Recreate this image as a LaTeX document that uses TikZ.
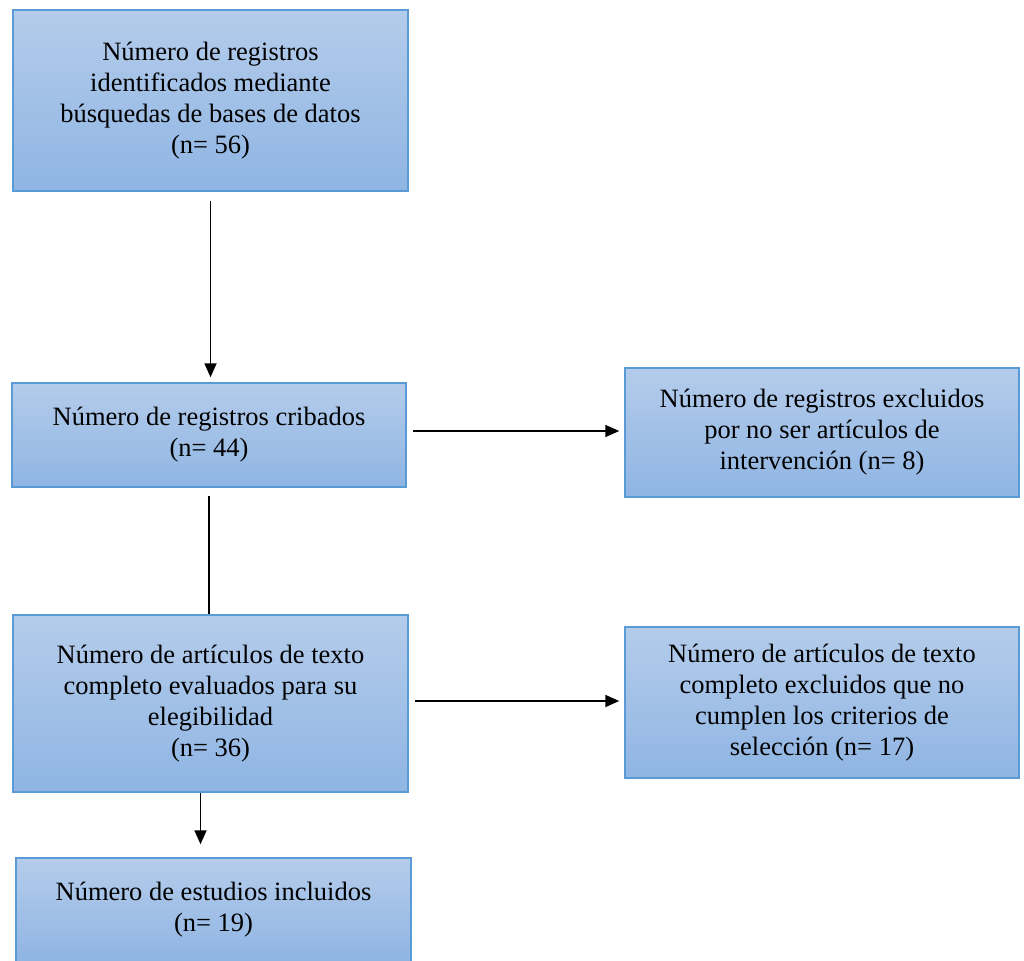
\documentclass[tikz,border=0pt]{standalone}
\usepackage{fontspec}
\setmainfont{Liberation Serif}
\newfontfamily\boxfont{Liberation Serif}
\usetikzlibrary{arrows.meta,calc}
\definecolor{boxtop}{RGB}{180,204,235}
\definecolor{boxbot}{RGB}{143,181,227}
\definecolor{boxline}{RGB}{91,155,213}
\tikzset{
  flowbox/.style={rectangle, draw=boxline, line width=1.5pt, top color=boxtop, bottom color=boxbot,
    inner sep=0pt, align=center, font=\boxfont\fontsize{26.5}{31}\selectfont},
  conn/.style={line width=1.8pt, black},
  arr/.style={conn, -{Triangle[length=14pt,width=12pt]}}
}
\begin{document}
\begin{tikzpicture}[x=1pt,y=-1pt]
\useasboundingbox (0,0) rectangle (1024,960);
\clip (0,0) rectangle (1024,960);
\node[flowbox, minimum width=395pt, minimum height=181pt] (B1) at (210.5,100.5)
  {Número de registros\\identificados mediante\\búsquedas de bases de datos\\(n= 56)};
\node[flowbox, minimum width=394pt, minimum height=104pt] (B2) at (209,435)
  {Número de registros cribados\\(n= 44)};
\node[flowbox, minimum width=394pt, minimum height=129pt] (B3) at (822,432.5)
  {Número de registros excluidos\\por no ser artículos de\\intervención (n= 8)};
\node[flowbox, minimum width=395pt, minimum height=177pt] (B4) at (210.5,703.5)
  {Número de artículos de texto\\completo evaluados para su\\elegibilidad\\(n= 36)};
\node[flowbox, minimum width=394pt, minimum height=151pt] (B5) at (822,702.5)
  {Número de artículos de texto\\completo excluidos que no\\cumplen los criterios de\\selección (n= 17)};
\node[flowbox, minimum width=395pt, minimum height=104pt] (B6) at (213.5,910)
  {Número de estudios incluidos\\(n= 19)};
\draw[arr, shorten <=9pt, shorten >=5pt] (B1.south) -- (B1.south |- B2.north);
\draw[arr, shorten <=6pt, shorten >=5pt] ([yshift=4pt]B2.east) -- ([yshift=4pt]B2.east -| B3.west);
\draw[conn, shorten <=8pt] (B2.south) -- (B2.south |- B4.north);
\draw[arr, shorten <=6pt, shorten >=5pt] ([yshift=2.5pt]B4.east) -- ([yshift=2.5pt]B4.east -| B5.west);
\draw[arr, shorten >=13pt] ([xshift=-10pt]B4.south) -- ([xshift=-10pt]B4.south |- B6.north);
\end{tikzpicture}
\end{document}
